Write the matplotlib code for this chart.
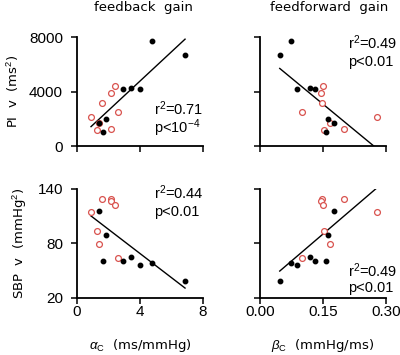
import numpy as np
import matplotlib
matplotlib.use("Agg")
import matplotlib.pyplot as plt

# subjects drawn as filled black dots
alpha_blk = [6.86, 4.76, 3.98, 3.43, 2.92, 1.82, 1.42, 1.65]
beta_blk = [0.047, 0.074, 0.089, 0.118, 0.131, 0.163, 0.177, 0.157]
pi_blk = [6700, 7720, 4160, 4235, 4150, 1965, 1720, 1020]
sbp_blk = [38.8, 58.3, 55.8, 64.4, 60.2, 88.7, 115.8, 60.9]

# subjects drawn as open red circles
alpha_red = [0.89, 1.25, 1.38, 1.61, 2.14, 2.18, 2.39, 2.62]
beta_red = [0.279, 0.152, 0.166, 0.147, 0.200, 0.145, 0.151, 0.099]
pi_red = [2100, 1190, 1705, 3130, 1240, 3913, 4428, 2468]
sbp_red = [114.3, 93.6, 79.6, 128.6, 128.4, 126.8, 122.0, 63.8]

stats_txt = {
    (0, 0): ("r$^2$=0.71", "p<10$^{-4}$"),
    (0, 1): ("r$^2$=0.49", "p<0.01"),
    (1, 0): ("r$^2$=0.44", "p<0.01"),
    (1, 1): ("r$^2$=0.49", "p<0.01"),
}
# (x, y of first line, y of second line) in axes fraction
stats_pos = {
    (0, 0): (0.61, 0.345, 0.16),
    (0, 1): (0.70, 0.945, 0.77),
    (1, 0): (0.61, 0.96, 0.79),
    (1, 1): (0.70, 0.245, 0.086),
}

red = '#d9534f'
plt.rcParams['font.family'] = 'DejaVu Sans'
plt.rcParams['mathtext.fontset'] = 'custom'
plt.rcParams['mathtext.rm'] = 'Liberation Sans'
plt.rcParams['mathtext.it'] = 'Liberation Sans:italic'
sans = 'Liberation Sans'

fig = plt.figure(figsize=(4.0, 3.55), dpi=100)
lefts = [77 / 400, 260 / 400]
bottoms = [1 - 146 / 355, 1 - 297.7 / 355]
w, h = 126 / 400, 109 / 355

xs_blk = [alpha_blk, beta_blk]
xs_red = [alpha_red, beta_red]
ys_blk = [pi_blk, sbp_blk]
ys_red = [pi_red, sbp_red]
xlims = [(0, 8), (0, 0.30)]
ylims = [(0, 8000), (20, 140)]
xticks = [[0, 4, 8], [0, 0.15, 0.30]]
xticklabels = [['0', '4', '8'], ['0.00', '0.15', '0.30']]
yticks = [[0, 4000, 8000], [20, 80, 140]]

for r in range(2):
    for c in range(2):
        ax = fig.add_axes([lefts[c], bottoms[r], w, h])
        xb, xr = np.array(xs_blk[c]), np.array(xs_red[c])
        yb, yr = np.array(ys_blk[r]), np.array(ys_red[r])
        ax.plot(xr, yr, 'o', mfc='white', mec=red, mew=0.9, ms=4.2, zorder=3)
        ax.plot(xb, yb, 'o', color='black', ms=3.2, zorder=4)

        # regression over all subjects
        xall = np.concatenate([xb, xr])
        yall = np.concatenate([yb, yr])
        k, b0 = np.polyfit(xall, yall, 1)
        xl = np.linspace(xall.min(), xall.max(), 50)
        ax.plot(xl, k * xl + b0, color='black', lw=1.0, zorder=2)

        ax.set_xlim(*xlims[c])
        ax.set_ylim(*ylims[r])
        ax.spines['top'].set_visible(False)
        ax.spines['right'].set_visible(False)
        ax.spines['left'].set_linewidth(1.3)
        ax.spines['bottom'].set_linewidth(1.3)
        ax.tick_params(direction='out', length=4, width=1.1)
        ax.tick_params(axis='x', pad=1.5)
        ax.tick_params(axis='y', pad=6)
        ax.set_xticks(xticks[c])
        ax.set_yticks(yticks[r])
        if r == 1:
            ax.set_xticklabels(xticklabels[c], family=sans, fontsize=11)
        else:
            ax.set_xticklabels([])
        if c == 1:
            ax.set_yticklabels([])
        else:
            ax.set_yticklabels([str(v) for v in yticks[r]], family=sans, fontsize=11)

        t1, t2 = stats_txt[(r, c)]
        px, py1, py2 = stats_pos[(r, c)]
        ax.text(px, py1, t1, transform=ax.transAxes, ha='left', va='center',
                fontsize=10.5, family=sans)
        ax.text(px, py2, t2, transform=ax.transAxes, ha='left', va='center',
                fontsize=10.5, family=sans)

        if c == 0:
            ax.set_ylabel('PI  v  (ms$^2$)' if r == 0 else 'SBP  v  (mmHg$^2$)',
                          fontsize=9.5, labelpad=6)
        if r == 1:
            ax.set_xlabel(r'$\alpha_{\rm C}$  (ms/mmHg)' if c == 0 else r'$\beta_{\rm C}$  (mmHg/ms)',
                          fontsize=9.5, labelpad=13)

fig.text(143 / 400, 1 - 7 / 355, 'feedback  gain', ha='center', va='center', fontsize=9.5)
fig.text(329 / 400, 1 - 7 / 355, 'feedforward  gain', ha='center', va='center', fontsize=9.5)

fig.savefig('out.png', dpi=100)
